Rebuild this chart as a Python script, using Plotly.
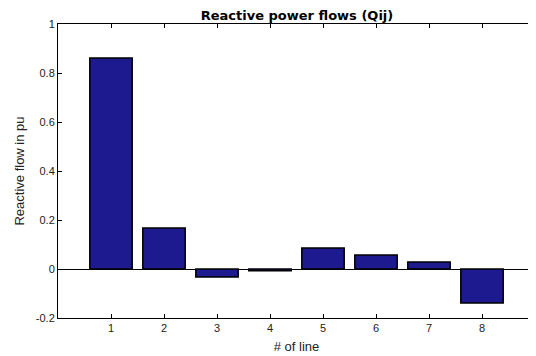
import plotly.graph_objects as go

lines = [1, 2, 3, 4, 5, 6, 7, 8]
q_values = [0.861, 0.167, -0.033, -0.007, 0.086, 0.057, 0.029, -0.139]
y_ticks = [-0.2, 0, 0.2, 0.4, 0.6, 0.8, 1]
y_tick_text = ["-0.2", "0", "0.2", "0.4", "0.6", "0.8", "1"]

fig = go.Figure()
fig.add_trace(go.Bar(
    x=lines, y=q_values, width=0.8,
    marker=dict(color="#1c1a8e", line=dict(color="#000000", width=1.5)),
))

font = "Liberation Sans, Arial, sans-serif"
W, H = 528, 348
fig.update_layout(
    width=W, height=H,
    margin=dict(l=50, r=1, t=16, b=38),
    paper_bgcolor="white", plot_bgcolor="white",
    showlegend=False,
    title=dict(text="<b>Reactive power flows (Qij)</b>", x=289/W, xanchor="center",
               y=1 - 7/H, yanchor="middle",
               font=dict(family="DejaVu Sans, sans-serif", size=13, color="#000")),
    xaxis=dict(range=[0, 9], tickvals=lines, ticks="inside", ticklen=4,
               tickcolor="#000", showline=True, linecolor="#000", linewidth=1,
               mirror="ticks", showgrid=False, zeroline=False,
               tickfont=dict(family=font, size=11, color="#222"),
               title=dict(text="# of line", font=dict(family=font, size=13, color="#222"), standoff=8)),
    yaxis=dict(range=[-0.2, 1], tickvals=y_ticks, ticktext=y_tick_text, ticks="inside", ticklen=4,
               tickcolor="#000", showline=True, linecolor="#000", linewidth=1,
               mirror="ticks", showgrid=False, zeroline=True, zerolinecolor="#000", zerolinewidth=1,
               tickfont=dict(family=font, size=11, color="#222"),
               title=dict(text="Reactive flow in pu", font=dict(family=font, size=13, color="#222"), standoff=8)),
)
fig.write_html("out.html")
